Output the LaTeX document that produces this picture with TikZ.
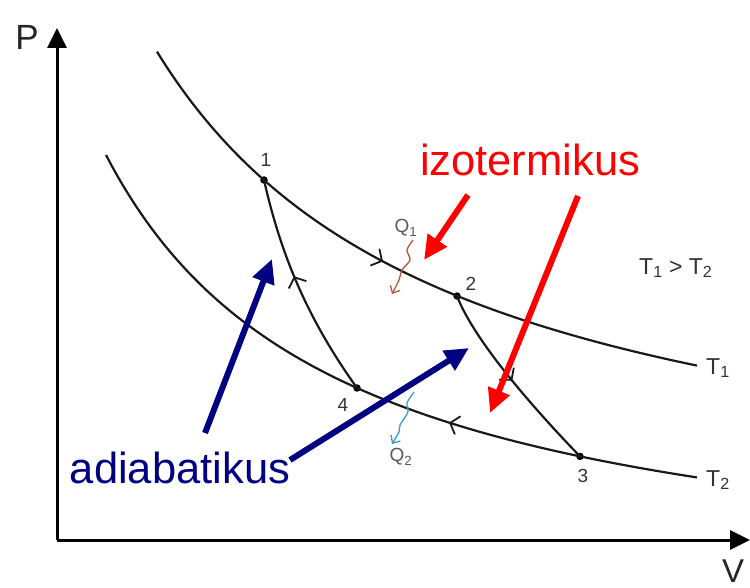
\documentclass[tikz,border=0pt]{standalone}
\usepackage{fontspec}
\setmainfont{Liberation Sans}
\usetikzlibrary{arrows.meta,decorations.markings}
\definecolor{lbl}{HTML}{333333}
\definecolor{qone}{HTML}{B5553A}
\definecolor{qtwo}{HTML}{3A98D6}
\definecolor{navy}{HTML}{000080}
\tikzset{
  curve/.style={line width=2.2pt, black!90},
  chev/.style={-{Straight Barb[length=8pt,width=19pt,line width=1.8pt]}},
  axis/.style={line width=3pt, -{Triangle[length=20pt,width=19pt]}},
  pt/.style={circle, fill=black, inner sep=0pt, minimum size=7.5pt},
  lab/.style={text=lbl, font=\fontsize{19}{21}\selectfont, inner sep=0pt},
  tlab/.style={text=lbl, font=\fontsize{23}{25}\selectfont, inner sep=0pt, anchor=west},
  big/.style={font=\fontsize{43.5}{48}\selectfont, inner sep=0pt},
  fat/.style={line width=6pt, -{Triangle[length=24pt,width=22pt]}},
  wavy/.style={line width=1.3pt, -{Straight Barb[length=6pt,width=11pt]}},
  midarrow/.style={postaction={decorate}, decoration={markings,
     mark=at position #1 with {\arrow{Straight Barb[length=8pt,width=19pt,line width=1.8pt]}}}}
}
\begin{document}
\begin{tikzpicture}[x=1pt,y=-1pt]
\useasboundingbox (0,0) rectangle (750,588);
% axes
\coordinate (O) at (57,540);
\coordinate (Ptop) at (57,28);
\coordinate (Vend) at (750,540);
\draw[axis] (O) -- (Ptop);
\draw[axis] (O) -- (Vend);
\node[font=\fontsize{35}{38}\selectfont, text=black!85, inner sep=0pt] (P) at (27,37) {P};
\node[font=\fontsize{33}{36}\selectfont, text=black!85, inner sep=0pt, anchor=west] (V) at (722,571) {V};
% points
\node[pt] (p1) at (264,180) {};
\node[pt] (p2) at (457,296) {};
\node[pt] (p3) at (580,456.4) {};
\node[pt] (p4) at (357,388) {};
\node[lab] (l1) at (266,160) {1};
\node[lab] (l2) at (471,284) {2};
\node[lab] (l3) at (583,476) {3};
\node[lab] (l4) at (343,405) {4};
% isotherm T1 (1 -> 2)
\draw[curve, chev] plot[domain=157:383, samples=60] (\x, {540-1465/((\x+143)/100)});
\draw[curve] plot[domain=380:697, samples=60] (\x, {540-1465/((\x+143)/100)});
% isotherm T2 (3 -> 4)
\draw[curve, chev] plot[domain=0:248, samples=60] ({697-\x}, {605-1052.1/((697-\x+127.8)/100)});
\draw[curve] plot[domain=106:452, samples=60] (\x, {605-1052.1/((\x+127.8)/100)});
% adiabats
\draw[curve, midarrow=0.56] (p4.center) .. controls (307,318) and (281,255) .. (p1.center);
\draw[curve, midarrow=0.5] (p2.center) .. controls (475,343) and (540,415) .. (p3.center);
\node[tlab] (t1) at (706,368) {T\textsubscript{1}};
\node[tlab] (t2) at (706,480) {T\textsubscript{2}};
\node[tlab] (tt) at (639,268) {T\textsubscript{1} > T\textsubscript{2}};
% heat
\node[lab, text=black!65] (q1) at (406,228) {Q\textsubscript{1}};
\node[lab, text=black!65] (q2) at (401,457) {Q\textsubscript{2}};
\draw[wavy, qone] plot[smooth] coordinates {(413,240) (407,250) (410,260) (402,270) (399,280) (392,294)};
\draw[wavy, qtwo] plot[smooth] coordinates {(414,392) (407,403) (408,412) (400,425) (399,432) (392,444)};
% labels and pointers
\node[big, text=red] (izo) at (530,160) {izotermikus};
\node[big, text=navy] (adi) at (180,468) {adiabatikus};
\coordinate (r1s) at (468,195);
\coordinate (r1e) at (424,260);
\coordinate (r2s) at (578,196);
\coordinate (r2e) at (490,413);
\coordinate (b1s) at (205,433);
\coordinate (b1e) at (272,259);
\coordinate (b2s) at (290,460);
\coordinate (b2e) at (469,348);
\draw[fat, red] (r1s) -- (r1e);
\draw[fat, red] (r2s) -- (r2e);
\draw[fat, navy] (b1s) -- (b1e);
\draw[fat, navy] (b2s) -- (b2e);
\end{tikzpicture}
\end{document}
